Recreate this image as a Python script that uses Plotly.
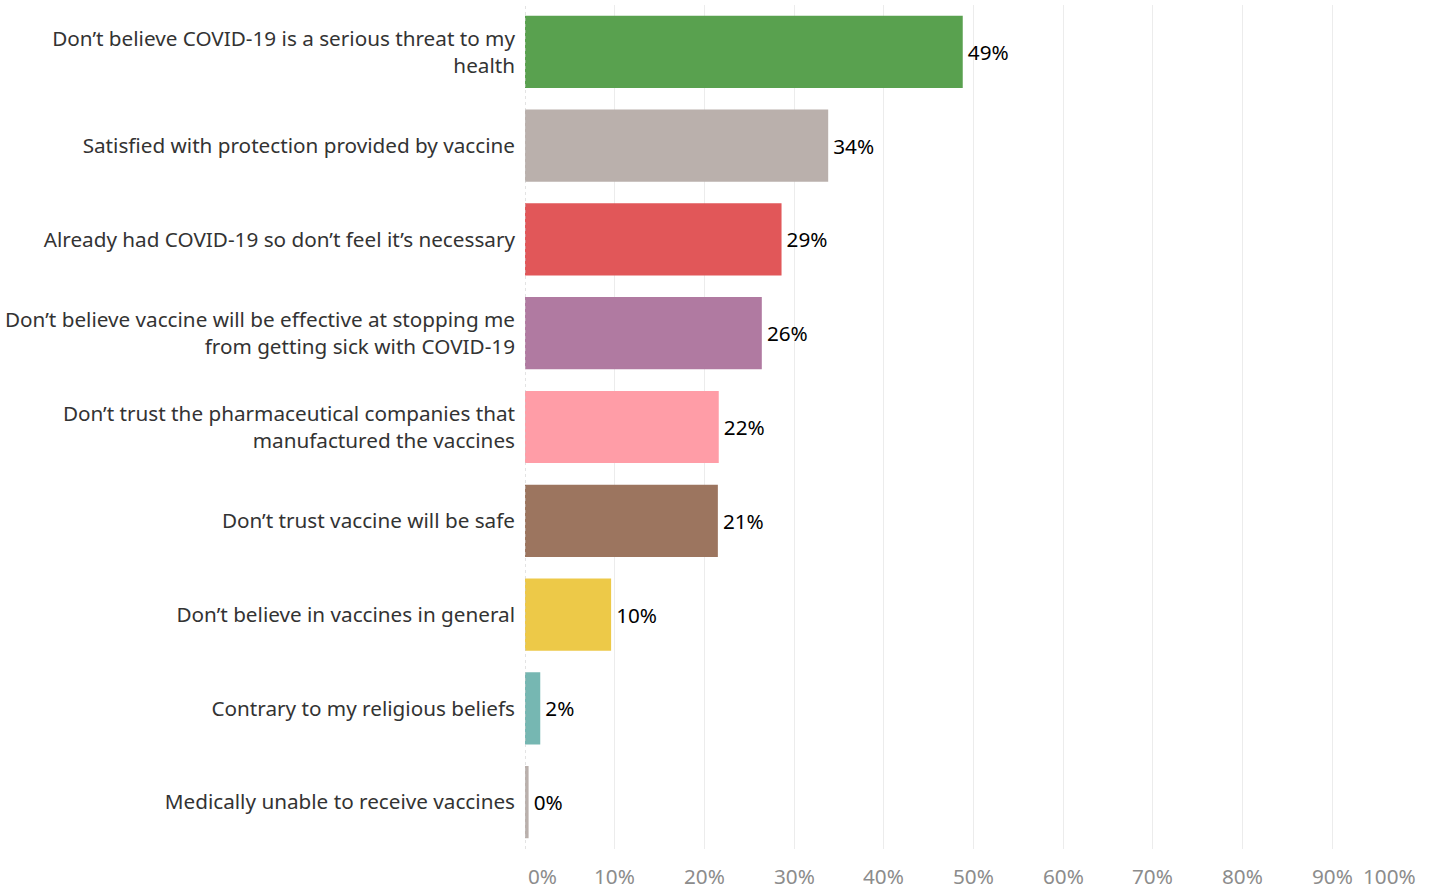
import plotly.graph_objects as go

categories = [
    "Don’t believe COVID-19 is a serious threat to my<br>health",
    "Satisfied with protection provided by vaccine",
    "Already had COVID-19 so don’t feel it’s necessary",
    "Don’t believe vaccine will be effective at stopping me<br>from getting sick with COVID-19",
    "Don’t trust the pharmaceutical companies that<br>manufactured the vaccines",
    "Don’t trust vaccine will be safe",
    "Don’t believe in vaccines in general",
    "Contrary to my religious beliefs",
    "Medically unable to receive vaccines",
]
values = [48.8, 33.8, 28.6, 26.4, 21.6, 21.5, 9.6, 1.7, 0.4]
labels = ["49%", "34%", "29%", "26%", "22%", "21%", "10%", "2%", "0%"]
colors = ["#59A14F", "#BAB0AC", "#E15759", "#B07AA1", "#FF9DA7",
          "#9C755F", "#EDC948", "#76B7B2", "#BAB0AC"]
tick_vals = [0, 10, 20, 30, 40, 50, 60, 70, 80, 90, 100]
tick_text = ["0%", "10%", "20%", "30%", "40%", "50%", "60%", "70%", "80%", "90%", "100%"]

FONT = "Noto Sans"
FS = 20.7

fig = go.Figure(go.Bar(
    x=values,
    y=categories,
    orientation="h",
    marker=dict(color=colors, line=dict(width=0)),
    text=labels,
    texttemplate="\u200a%{text}",
    textposition="outside",
    textfont=dict(family=FONT, size=FS, color="#000000"),
    cliponaxis=False,
    width=0.77,
))

annotations = []
for v, t in zip(tick_vals, tick_text):
    if v == 0:
        xa, xs = "left", 2
    elif v == 100:
        xa, xs = "right", -5
    else:
        xa, xs = "center", 0
    annotations.append(dict(
        x=v, y=0, xref="x", yref="paper", text=t, showarrow=False,
        xanchor=xa, yanchor="top", xshift=xs, yshift=-16,
        height=20, valign="middle", borderpad=0,
        font=dict(family=FONT, size=FS, color="#8c8c8c"),
    ))

fig.update_layout(
    width=1435, height=886,
    margin=dict(l=524.5, r=12.5, t=5, b=37),
    plot_bgcolor="white", paper_bgcolor="white",
    showlegend=False,
    xaxis=dict(
        range=[0, 100], tickvals=tick_vals, showticklabels=False,
        showgrid=True, gridcolor="#ececec", gridwidth=1,
        zeroline=False, showline=False, fixedrange=True,
    ),
    yaxis=dict(
        categoryorder="array", categoryarray=categories,
        autorange="reversed", showgrid=False, zeroline=False,
        ticks="", ticklabelstandoff=9,
        tickfont=dict(family=FONT, size=FS, color="#333333"),
    ),
    annotations=annotations,
    shapes=[dict(type="line", xref="x", yref="paper", x0=0, x1=0, y0=0, y1=1,
                 line=dict(color="#c8c8c8", width=1, dash="dot"), layer="above")],
)

fig.write_html("out.html", config={"displayModeBar": False},
               post_script="document.body.style.margin='0';")
